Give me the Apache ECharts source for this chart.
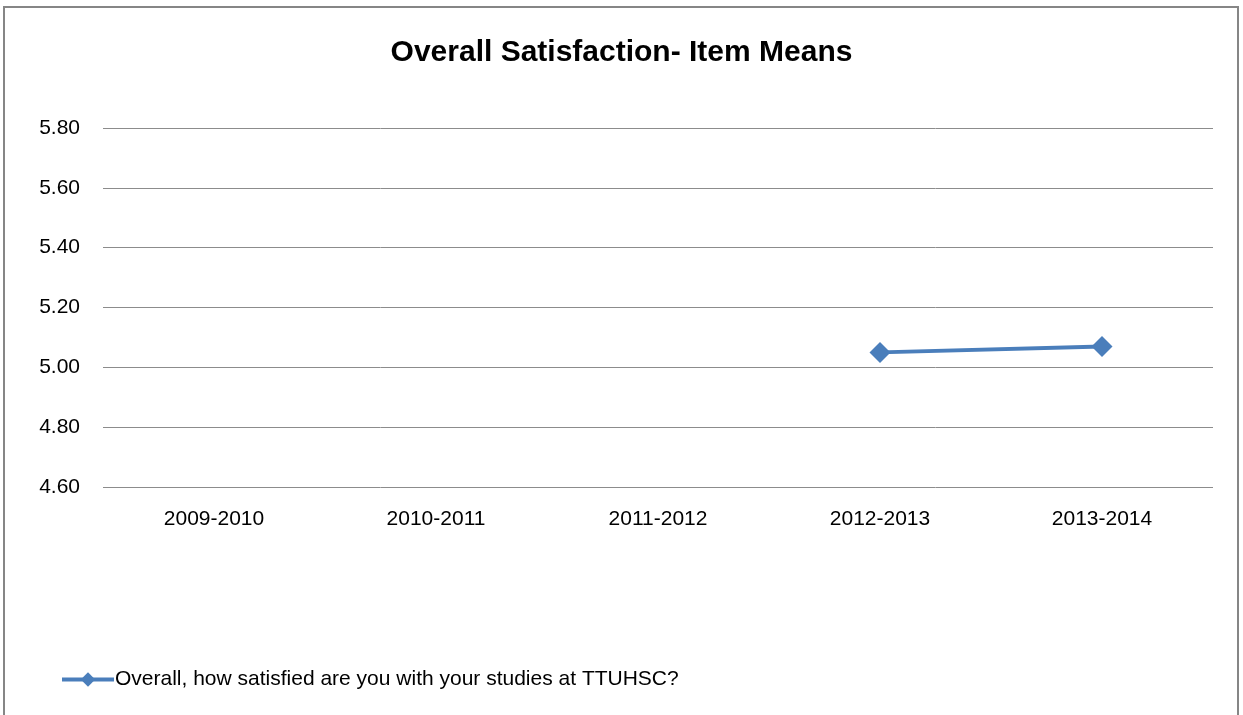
<!DOCTYPE html>
<html>
<head>
<meta charset="utf-8">
<script src="https://cdn.jsdelivr.net/npm/echarts@6/dist/echarts.min.js"></script>
<style>
  html, body { margin: 0; padding: 0; background: #fff; }
  #frame {
    position: absolute; left: 3px; top: 6px; width: 1236px; height: 720px;
    border: 2px solid #868686; box-sizing: border-box;
  }
  #chart { position: absolute; left: 0; top: 0; width: 1243px; height: 715px; }
</style>
</head>
<body>
<div id="frame"></div>
<div id="chart"></div>
<script>
// chart data
const years = ['2009-2010', '2010-2011', '2011-2012', '2012-2013', '2013-2014']
const satisfaction = [null, null, null, 5.05, 5.07]
const seriesName = 'Overall, how satisfied are you with your studies at TTUHSC?'

const font = 'Liberation Sans'

const chart = echarts.init(document.getElementById('chart'))
chart.setOption({
  animation: false,
  title: {
    text: 'Overall Satisfaction- Item Means',
    left: 'center',
    top: 33,
    textStyle: { fontFamily: font, fontSize: 30, fontWeight: 'bold', color: '#000' }
  },
  grid: { left: 103, right: 30, top: 128, height: 359 },
  legend: {
    left: 55,
    top: 664,
    itemWidth: 52,
    itemHeight: 18,
    itemGap: 2,
    lineStyle: { width: 4 },
    textStyle: { fontFamily: font, fontSize: 21, color: '#000', padding: [0, 0, 0, -4] },
    data: [seriesName]
  },
  xAxis: {
    type: 'category',
    data: years,
    boundaryGap: true,
    axisLine: { show: false },
    axisTick: { show: false },
    axisLabel: { margin: 22, fontFamily: font, fontSize: 21, color: '#000' }
  },
  yAxis: {
    type: 'value',
    min: 4.6,
    max: 5.8,
    interval: 0.2,
    axisLine: { show: false },
    axisTick: { show: false },
    axisLabel: {
      margin: 23,
      fontFamily: font,
      fontSize: 21,
      color: '#000',
      formatter: v => v.toFixed(2)
    },
    splitLine: { lineStyle: { color: '#8c8c8c', width: 1 } }
  },
  series: [
    {
      name: seriesName,
      type: 'line',
      data: satisfaction,
      symbol: 'diamond',
      symbolSize: 21,
      connectNulls: false,
      lineStyle: { color: '#4a7ebb', width: 4 },
      itemStyle: { color: '#4a7ebb' }
    }
  ]
})
</script>
</body>
</html>
